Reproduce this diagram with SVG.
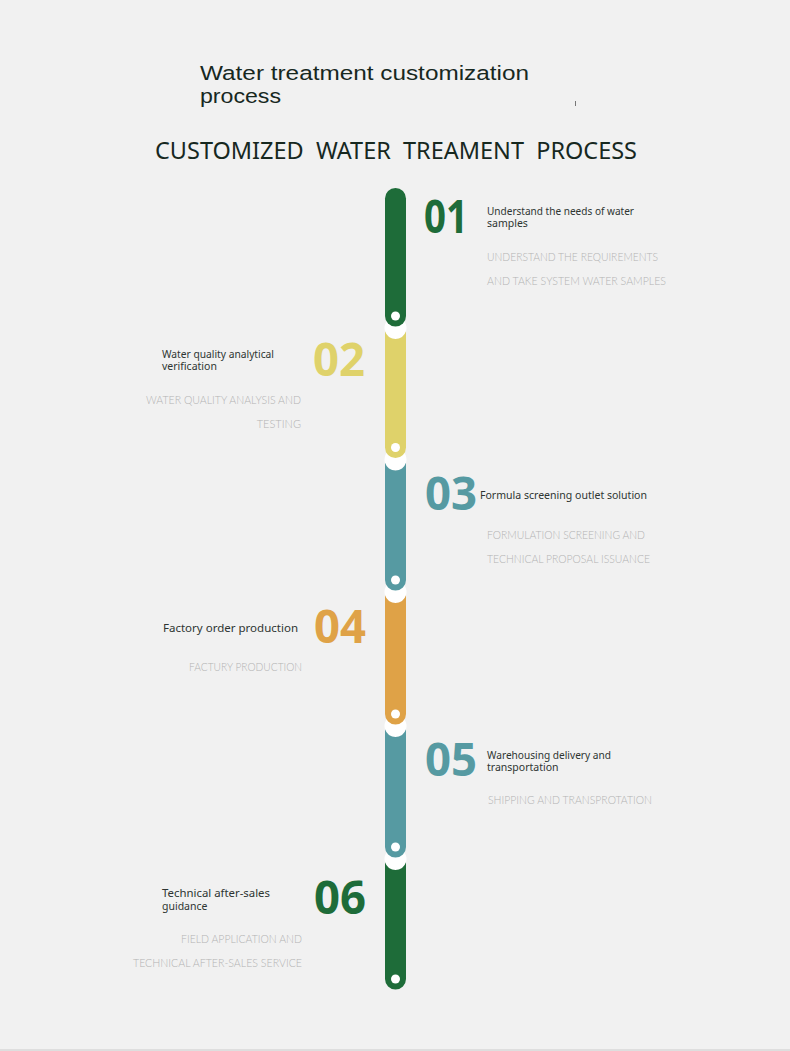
<svg xmlns="http://www.w3.org/2000/svg" width="790" height="1051" viewBox="0 0 790 1051">
<style>
.title{font-family:"Noto Sans","Open Sans",sans-serif;fill:#17281f}
.head{font-family:"Liberation Sans","Noto Sans",sans-serif;fill:#17281f}
.num{font-family:"Open Sans","Liberation Sans",sans-serif;font-weight:700;font-size:46px}
.lab{font-family:"Noto Sans","Open Sans",sans-serif;font-size:10.5px;fill:#2e3532}
.sub{font-family:"Lato","Liberation Sans",sans-serif;font-weight:300;font-size:11px;fill:#b3b3b3}
.hole{fill:#ffffff}
.gap{fill:#ffffff}
</style>
<rect width="790" height="1051" fill="#f1f1f1"/>
<rect x="0" y="1049" width="790" height="2" fill="#dedede"/>
<g id="header">
<text class="head" x="200" y="80" font-size="20.5" textLength="329" lengthAdjust="spacingAndGlyphs">Water treatment customization</text>
<text class="head" x="200" y="103" font-size="20.5" textLength="81" lengthAdjust="spacingAndGlyphs">process</text>
<rect x="575" y="101" width="1" height="5" fill="#777"/>
<text class="title" x="155" y="159" font-size="23" word-spacing="6" textLength="482" lengthAdjust="spacingAndGlyphs">CUSTOMIZED WATER TREAMENT PROCESS</text>
</g>
<g id="connectors">
<circle class="gap" cx="395.5" cy="328" r="11"/>
<circle class="gap" cx="395.5" cy="459.5" r="11"/>
<circle class="gap" cx="395.5" cy="592" r="11"/>
<circle class="gap" cx="395.5" cy="726" r="11"/>
<circle class="gap" cx="395.5" cy="859" r="11"/>
</g>
<g id="step1">
<path d="M385,198.5 A10.5,10.5 0 0 1 406,198.5 L406,316 A10.5,10.5 0 0 1 385,316 Z" fill="#1e6c39"/>
<circle class="hole" cx="395.5" cy="316" r="4.5"/>
<text class="num" x="424" y="233" fill="#1e6c39" textLength="44" lengthAdjust="spacingAndGlyphs">01</text>
<text class="lab" x="487" y="215" textLength="147" lengthAdjust="spacingAndGlyphs">Understand the needs of water</text>
<text class="lab" x="487" y="227">samples</text>
<text class="sub" x="487" y="261" textLength="171" lengthAdjust="spacingAndGlyphs">UNDERSTAND THE REQUIREMENTS</text>
<text class="sub" x="487" y="285" textLength="179" lengthAdjust="spacingAndGlyphs">AND TAKE SYSTEM WATER SAMPLES</text>
</g>
<g id="step2">
<path d="M385,331.3 A11,11 0 0 0 406,331.3 L406,447.5 A10.5,10.5 0 0 1 385,447.5 Z" fill="#dfd26a"/>
<circle class="hole" cx="395.5" cy="447.5" r="4.5"/>
<text class="num" x="313" y="376" fill="#dfd26a" textLength="52" lengthAdjust="spacingAndGlyphs">02</text>
<text class="lab" x="162" y="358" textLength="112" lengthAdjust="spacingAndGlyphs">Water quality analytical</text>
<text class="lab" x="162" y="370">verification</text>
<text class="sub" x="301" y="404" text-anchor="end" textLength="155" lengthAdjust="spacingAndGlyphs">WATER QUALITY ANALYSIS AND</text>
<text class="sub" x="301" y="428" text-anchor="end">TESTING</text>
</g>
<g id="step3">
<path d="M385,462.8 A11,11 0 0 0 406,462.8 L406,580 A10.5,10.5 0 0 1 385,580 Z" fill="#569aa2"/>
<circle class="hole" cx="395.5" cy="580" r="4.5"/>
<text class="num" x="425" y="510" fill="#569aa2" textLength="52" lengthAdjust="spacingAndGlyphs">03</text>
<text class="lab" x="480" y="499" textLength="167" lengthAdjust="spacingAndGlyphs">Formula screening outlet solution</text>
<text class="sub" x="487" y="539" textLength="158" lengthAdjust="spacingAndGlyphs">FORMULATION SCREENING AND</text>
<text class="sub" x="487" y="563" textLength="163" lengthAdjust="spacingAndGlyphs">TECHNICAL PROPOSAL ISSUANCE</text>
</g>
<g id="step4">
<path d="M385,595.3 A11,11 0 0 0 406,595.3 L406,714 A10.5,10.5 0 0 1 385,714 Z" fill="#dfa247"/>
<circle class="hole" cx="395.5" cy="714" r="4.5"/>
<text class="num" x="314" y="643" fill="#dfa247" textLength="52" lengthAdjust="spacingAndGlyphs">04</text>
<text class="lab" x="163" y="632" font-size="11.5" textLength="135" lengthAdjust="spacingAndGlyphs">Factory order production</text>
<text class="sub" x="302" y="671" text-anchor="end" textLength="113" lengthAdjust="spacingAndGlyphs">FACTURY PRODUCTION</text>
</g>
<g id="step5">
<path d="M385,729.3 A11,11 0 0 0 406,729.3 L406,847 A10.5,10.5 0 0 1 385,847 Z" fill="#569aa2"/>
<circle class="hole" cx="395.5" cy="847" r="4.5"/>
<text class="num" x="425" y="776" fill="#569aa2" textLength="52" lengthAdjust="spacingAndGlyphs">05</text>
<text class="lab" x="487" y="759" textLength="124" lengthAdjust="spacingAndGlyphs">Warehousing delivery and</text>
<text class="lab" x="487" y="771">transportation</text>
<text class="sub" x="488" y="804" textLength="164" lengthAdjust="spacingAndGlyphs">SHIPPING AND TRANSPROTATION</text>
</g>
<g id="step6">
<path d="M385,862.3 A11,11 0 0 0 406,862.3 L406,979 A10.5,10.5 0 0 1 385,979 Z" fill="#1e6c39"/>
<circle class="hole" cx="395.5" cy="979" r="4.5"/>
<text class="num" x="314" y="914" fill="#1e6c39" textLength="52" lengthAdjust="spacingAndGlyphs">06</text>
<text class="lab" x="162" y="897" textLength="108" lengthAdjust="spacingAndGlyphs">Technical after-sales</text>
<text class="lab" x="162" y="910">guidance</text>
<text class="sub" x="302" y="943" text-anchor="end" textLength="121" lengthAdjust="spacingAndGlyphs">FIELD APPLICATION AND</text>
<text class="sub" x="302" y="967" text-anchor="end" textLength="169" lengthAdjust="spacingAndGlyphs">TECHNICAL AFTER-SALES SERVICE</text>
</g>
</svg>
